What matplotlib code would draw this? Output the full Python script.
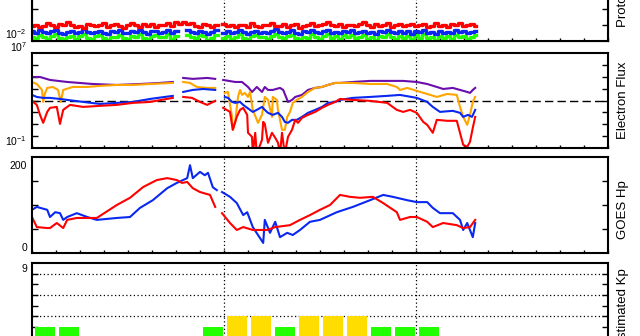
import numpy as np
import matplotlib
matplotlib.use('Agg')
import matplotlib.pyplot as plt
from matplotlib.ticker import NullLocator

plt.rcParams['font.family'] = 'Liberation Sans'
plt.rcParams['mathtext.default'] = 'regular'

nan = np.nan

# ---- proton flux, log10 values on a half-hour grid ----
p_hours = np.arange(0, 56, 0.5)
p_red = [-1.05, -0.98, -1.12, -1.08, -0.90, -1.02, -1.15, -0.95,
         -1.00, -0.82, -0.97, -1.10, -1.04, -1.18, -0.93, -1.01,
         -1.07, -0.99, -0.88, -1.13, -1.00, -0.94, -1.09, -1.16,
         -0.98, -0.86, -1.03, -1.11, -0.96, -1.05, -0.91, -1.14,
         -1.02, -0.97, -0.85, -1.06, -0.80, -0.92, -0.84, -0.95,
         -0.89, -1.04, -1.10, -0.96, -1.01, -1.12, -0.99, nan,
         -0.94, -1.08, -1.03, -1.15, -0.97, -1.00, -1.11, -0.90,
         -1.06, -1.13, -0.98, -1.02, -0.87, -1.09, -1.04, -0.95,
         -1.10, -1.00, -0.93, -1.17, -1.05, -0.99, -0.89, -1.07,
         -1.01, -0.92, -0.81, -1.03, -1.08, -0.96, -1.14, -1.00,
         -0.97, -1.06, -0.91, -0.84, -1.02, -1.10, -0.95, -1.05,
         -0.99, -0.88, -1.12, -1.03, -0.96, -1.07, -1.01, -0.93,
         -1.09, -1.00, -0.94, -1.13, -1.04, -0.90, -1.06, -0.98,
         -1.11, -0.95, -1.02, -0.87, -1.05, -1.00, -0.93, -1.04]
p_blue = [-1.40, -1.48, -1.33, -1.45, -1.52, -1.38, -1.30, -1.47,
          -1.55, -1.42, -1.36, -1.50, -1.44, -1.28, -1.41, -1.53,
          -1.46, -1.35, -1.49, -1.57, -1.39, -1.43, -1.32, -1.48,
          -1.51, -1.37, -1.44, -1.29, -1.46, -1.54, -1.40, -1.35,
          -1.47, -1.42, -1.31, -1.50, -1.38, nan, nan, -1.34,
          -1.43, -1.49, -1.36, -1.41, -1.55, -1.45, -1.33, nan,
          -1.48, -1.39, -1.52, -1.44, -1.30, -1.46, -1.58, -1.41,
          -1.35, -1.47, -1.43, -1.51, -1.37, -1.27, -1.45, -1.50,
          -1.42, -1.34, -1.49, -1.56, -1.40, -1.46, -1.32, -1.44,
          -1.52, -1.38, -1.29, -1.47, -1.41, -1.53, -1.36, -1.45,
          -1.31, -1.48, -1.43, -1.35, -1.50, -1.42, -1.57, -1.39,
          -1.46, -1.33, -1.44, -1.51, -1.37, -1.48, -1.40, -1.54,
          -1.36, -1.45, -1.30, -1.49, -1.42, -1.55, -1.38, -1.47,
          -1.41, -1.52, -1.34, -1.46, -1.39, -1.50, -1.43, -1.37]
p_green = [-1.72, -1.80, -1.63, -1.76, -1.88, -1.69, -1.58, -1.83,
           -1.90, -1.74, -1.66, -1.85, -1.71, -1.56, -1.79, -1.87,
           -1.68, -1.61, -1.82, -1.92, -1.73, -1.77, -1.60, -1.84,
           -1.86, -1.67, -1.75, -1.55, -1.81, -1.89, -1.70, -1.64,
           -1.78, -1.72, -1.59, -1.85, -1.66, nan, nan, -1.62,
           -1.74, -1.83, -1.65, -1.70, -1.91, -1.79, -1.61, nan,
           -1.80, -1.69, -1.87, -1.75, -1.57, -1.82, -1.93, -1.71,
           -1.64, -1.78, -1.73, -1.86, -1.68, -1.54, -1.77, -1.84,
           -1.70, -1.62, -1.81, -1.90, -1.72, -1.79, -1.58, -1.76,
           -1.88, -1.66, -1.56, -1.80, -1.71, -1.89, -1.65, -1.78,
           -1.60, -1.83, -1.74, -1.63, -1.86, -1.72, -1.92, -1.69,
           -1.77, -1.59, -1.75, -1.87, -1.67, -1.82, -1.70, -1.90,
           -1.64, -1.79, -1.57, -1.84, -1.73, -1.91, -1.66, -1.80,
           -1.71, -1.88, -1.61, -1.78, -1.68, -1.85, -1.74, -1.63]

# ---- electron flux (log10) ----
e_purple_t = [0, 1.0, 2.25, 4.4, 7.6, 10.6, 13.5, 16.0, 17.6, 18.0, 18.9, 20.1, 21.9, 22.9, 23.2,
              23.9, 25.4, 26.25, 27.0, 27.5, 28.1, 28.75, 29.1, 29.5, 30.1, 31.0, 31.4, 31.9, 32.0,
              32.5, 32.9, 33.75, 34.5, 35.4, 36.25, 37.0, 37.9, 38.5, 40.1, 42.25, 44.4, 46.4, 48.1,
              49.4, 50.6, 51.4, 52.6, 53.5, 54.4, 54.75, 55.1, 55.4]
e_purple = [4.98, 4.98, 4.73, 4.56, 4.39, 4.31, 4.39, 4.48, 4.56, nan, 4.90, 4.82, 4.90, 4.82, nan,
            4.73, 4.56, 4.56, 4.14, 3.72, 4.14, 3.72, 4.14, 3.89, 3.89, 4.06, 3.89, 3.05, 2.88,
            3.05, 3.30, 3.47, 3.89, 4.06, 4.14, 4.31, 4.48, 4.48, 4.56, 4.65, 4.65, 4.65, 4.56,
            4.39, 4.14, 3.97, 4.06, 3.89, 3.72, 3.64, 3.89, 4.06]

e_orange_t = [0, 0.6, 1.25, 1.4, 1.6, 1.9, 2.6, 3.25, 3.6, 3.9, 5.1, 6.9, 8.5, 10.6, 12.6, 14.75,
              17.6, 18.0, 18.9, 19.75, 20.6, 21.9, 22.9, 23.2, 24.1, 24.5, 25.0, 25.1, 25.4, 25.75,
              26.0, 26.25, 26.6, 27.0, 27.25, 27.6, 28.25, 28.75, 29.1, 29.5, 30.0, 30.1, 30.6,
              30.75, 31.25, 31.6, 31.9, 32.25, 32.6, 33.1, 33.75, 34.5, 35.4, 36.25, 37.0, 37.9,
              38.5, 40.1, 42.25, 44.4, 45.6, 46.0, 46.9, 48.1, 49.4, 50.6, 51.9, 53.1, 53.5, 53.9,
              54.4, 54.75, 55.1, 55.4]
e_orange = [4.56, 4.39, 3.89, 2.88, 3.55, 4.06, 4.14, 3.89, 2.88, 3.89, 4.14, 4.14, 4.23, 4.31, 4.31, 4.39,
            4.48, nan, 4.56, 4.48, 4.14, 4.06, 4.06, nan, 3.64, 3.72, 1.62, 0.53, 1.20, 3.30,
            3.89, 3.47, 3.64, 3.30, 3.72, 2.21, 1.12, 1.79, 3.30, 3.05, 1.62, 3.30, 3.05,
            2.21, 0.53, 0.53, 1.62, 2.04, 2.80, 3.05, 3.30, 3.72, 4.06, 4.14, 4.31, 4.48,
            4.48, 4.48, 4.39, 4.39, 4.14, 3.89, 4.06, 3.81, 3.55, 3.30, 3.55, 3.47, 2.46, 1.62,
            0.95, 1.79, 2.88, 3.30]

e_blue_t = [0, 0.6, 1.4, 2.25, 3.5, 4.4, 6.4, 8.5, 10.6, 12.6, 14.75, 17.6, 18.0, 18.9, 20.1, 21.4,
            22.9, 23.2, 24.1, 24.5, 25.0, 25.4, 26.0, 26.4, 26.9, 27.25, 27.6, 28.1, 28.75, 29.1,
            29.5, 30.1, 30.75, 31.25, 31.6, 32.0, 32.5, 33.1, 33.75, 34.5, 35.4, 36.25, 37.0,
            37.9, 38.5, 40.1, 42.25, 44.4, 46.0, 48.1, 49.4, 50.1, 51.0, 52.6, 53.5, 53.9, 54.5,
            55.0, 55.4]
e_blue = [3.47, 3.30, 3.22, 3.22, 3.13, 3.05, 2.88, 2.71, 2.80, 2.88, 3.13, 3.39, nan, 3.72, 3.89, 3.97,
          3.89, nan, 3.30, 3.22, 2.88, 2.80, 2.88, 2.63, 2.38, 2.21, 2.04, 2.21, 2.46, 2.21,
          1.96, 1.79, 1.96, 1.62, 1.20, 1.12, 1.37, 1.37, 1.62, 1.96, 2.21, 2.46, 2.80,
          2.88, 3.05, 3.22, 3.30, 3.39, 3.47, 3.22, 2.88, 2.46, 2.04, 2.13, 1.96, 1.62, 1.79,
          1.62, 2.21]

e_red_t = [0, 0.6, 1.0, 1.4, 1.9, 2.25, 3.1, 3.5, 3.9, 4.75, 6.4, 8.5, 10.6, 12.6, 14.75, 17.6, 18.0,
           18.9, 20.0, 21.0, 21.9, 22.9, 23.2, 23.9, 24.75, 25.1, 25.6, 26.0, 26.4, 26.9, 27.0,
           27.5, 27.6, 27.9, 28.1, 28.75, 28.9, 29.1, 29.5, 30.0, 30.4, 30.75, 31.0, 31.25, 31.6,
           32.0, 32.5, 32.9, 33.25, 33.75, 34.5, 35.4, 36.25, 37.0, 37.9, 38.5, 40.1, 42.25,
           44.4, 45.6, 46.4, 47.25, 48.1, 48.9, 49.4, 50.1, 50.6, 51.9, 53.1, 53.5, 53.9, 54.4,
           54.75, 55.1, 55.4]
e_red = [2.97, 2.63, 1.79, 1.12, 2.04, 2.38, 2.46, 1.03, 2.21, 2.63, 2.46, 2.55, 2.63, 2.80, 2.88, 3.22, nan,
         3.30, 3.22, 2.88, 2.63, 2.97, nan, 2.38, 2.04, 0.53, 1.62, 2.21, 2.38, 1.79, 0.28,
         -0.06, -1.5, 0.28, -1.5, -0.31, 1.20, 1.03, -0.56, 0.28, -0.14, -0.56, -1.5, 0.28, -1.5,
         -0.06, 0.53, 1.37, 1.12, 1.54, 1.79, 2.04, 2.38, 2.63, 2.88, 3.13, 3.05, 2.97,
         2.80, 2.21, 2.04, 2.21, 1.96, 1.20, 0.95, 0.28, 1.37, 1.29, 1.29, 0.28, -0.73, -0.90,
         -0.48, 0.70, 1.62]

# ---- GOES Hp (nT) ----
hp_blue_t = [0, 0.6, 1.9, 2.25, 2.9, 3.5, 3.9, 4.4, 5.6, 6.9, 8.1, 10.6, 12.25, 13.5, 15.1, 16.9,
             18.1, 19.4, 19.75, 20.1, 21.0, 21.6, 22.0, 22.6, 23.1, 23.4, 23.75, 24.75, 25.6, 26.4,
             26.9, 27.6, 28.9, 29.1, 29.75, 30.4, 31.0, 31.9, 32.6, 33.5, 34.75, 36.0, 38.1, 40.1,
             42.25, 43.9, 45.1, 46.9, 48.1, 49.4, 50.1, 51.0, 52.6, 53.5, 53.9, 54.4, 55.1, 55.4]
hp_blue = [90, 96, 90, 75, 85, 83, 69, 75, 83, 75, 69, 73, 75, 94, 110, 135,
           146, 156, 183, 156, 169, 162, 167, 137, 131, nan, 127, 117, 104, 79,
           85, 54, 21, 69, 42, 65, 33, 42, 37.5, 48, 65, 69, 85, 96,
           110, 121, 117, 110, 106, 106, 94, 83, 83, 69, 48, 62.5, 33, 62.5]
hp_red_t = [0, 0.6, 1.9, 2.25, 3.1, 3.9, 4.4, 5.6, 8.1, 10.6, 12.25, 13.9, 15.6, 16.9, 18.1, 18.75,
            19.4, 20.1, 21.0, 22.25, 22.9, 23.2, 23.75, 24.75, 25.6, 26.4, 27.6, 29.4, 30.4, 32.25,
            33.5, 34.75, 36.0, 37.25, 38.5, 39.75, 41.0, 42.6, 43.9, 45.6, 46.0, 47.25, 48.1, 49.4,
            50.1, 51.4, 53.1, 53.9, 54.75, 55.4]
hp_red = [75, 54, 52, 52, 62.5, 52, 69, 73, 73, 100, 115, 137.5, 152, 156, 152, 146,
          148, 135, 127, 121, 96, nan, 83, 62.5, 48, 54, 48, 48, 54, 58,
          69, 79, 90, 100, 121, 117, 115, 117, 104, 85, 69, 75, 75, 65,
          54, 62.5, 58, 52, 54, 69]

# ---- estimated Kp, one value per 3-hour interval ----
kp_start = np.arange(0, 54, 3)
kp = [3, 3, 2, 2, 1, 2, 2, 3, 4, 4, 3, 4, 4, 4, 3, 3, 3, 2]


def colour_kp(v):
    if v >= 5:
        return '#ff0000'
    if v >= 4:
        return '#ffdd00'
    return '#22ff00'


fig = plt.figure(figsize=(6.4, 3.36), dpi=100)
FW, FH = 640.0, 336.0


def panel(top, bot):
    return fig.add_axes([32 / FW, 1 - bot / FH, 576 / FW, (bot - top) / FH])


def style(ax):
    ax.set_xlim(0, 72)
    ax.set_xticks(np.arange(0, 73, 3))
    ax.tick_params(axis='x', direction='in', length=2.5, width=1, labelbottom=False, top=False)
    ax.tick_params(axis='y', direction='in', length=4.5, width=1, labelleft=False, right=True)
    for s in ax.spines.values():
        s.set_linewidth(1.5)
    for d in (24, 48):
        ax.axvline(d, color='k', ls=(0, (1, 2)), lw=0.9, zorder=1)


lw = 1.5

# proton panel
ax_p = panel(-55, 41)
style(ax_p)
ax_p.set_yscale('log')
ax_p.set_ylim(1e-2, 1e4)
ax_p.set_yticks([1e0, 1e2])
ax_p.yaxis.set_minor_locator(NullLocator())
ax_p.tick_params(axis='y', right=False)
ax_pr = ax_p.twinx()
ax_pr.set_yscale('log')
ax_pr.set_ylim(1e-2, 1e4)
ax_pr.set_yticks([10.0 ** k for k in range(-1, 4)])
ax_pr.yaxis.set_minor_locator(NullLocator())
ax_pr.tick_params(axis='y', direction='in', length=4.5, width=1, labelright=False)
ax_p.plot(p_hours, 10 ** np.array(p_green), color='#22ff00', lw=2.4, drawstyle='steps-mid')
ax_p.plot(p_hours, 10 ** np.array(p_blue), color='#0a28f0', lw=2.4, drawstyle='steps-mid')
ax_p.plot(p_hours, 10 ** np.array(p_red), color='#ff0000', lw=2.4, drawstyle='steps-mid')

# electron panel
ax_e = panel(53, 148)
style(ax_e)
ax_e.set_yscale('log')
ax_e.set_ylim(1e-1, 1e7)
ax_e.set_yticks([10.0 ** k for k in range(0, 7)])
ax_e.yaxis.set_minor_locator(NullLocator())
ax_e.axhline(1e3, color='k', ls=(0, (6, 3)), lw=1)
ax_e.plot(e_purple_t, 10 ** np.array(e_purple), color='#6a0dad', lw=lw)
ax_e.plot(e_orange_t, 10 ** np.array(e_orange), color='#ffa500', lw=lw)
ax_e.plot(e_blue_t, 10 ** np.array(e_blue), color='#0a28f0', lw=lw)
ax_e.plot(e_red_t, 10 ** np.array(e_red), color='#ff0000', lw=lw)

# Hp panel
ax_h = panel(157, 253)
style(ax_h)
ax_h.set_ylim(0, 200)
ax_h.set_yticks([50, 100, 150])
ax_h.plot(hp_blue_t, hp_blue, color='#0a28f0', lw=lw)
ax_h.plot(hp_red_t, hp_red, color='#ff0000', lw=lw)

# Kp panel
ax_k = panel(263, 359)
style(ax_k)
ax_k.set_ylim(0, 9)
ax_k.set_yticks(range(1, 9))
for lev in (4, 6, 8):
    ax_k.axhline(lev, color='k', ls=(0, (1, 2)), lw=0.9, zorder=1)
ax_k.bar(kp_start + 1.6, kp, width=2.5, color=[colour_kp(v) for v in kp], zorder=2)

# axis labels
fs_tick = 7.5
fig.text(27 / FW, 1 - 41 / FH, '$10^{-2}$', ha='right', va='bottom', fontsize=fs_tick)
fig.text(27 / FW, 1 - 52 / FH, '$10^{7}$', ha='right', va='baseline', fontsize=fs_tick)
fig.text(27 / FW, 1 - 148 / FH, '$10^{-1}$', ha='right', va='bottom', fontsize=fs_tick)
fig.text(27 / FW, 1 - 161 / FH, '200', ha='right', va='top', fontsize=fs_tick)
fig.text(27 / FW, 1 - 253 / FH, '0', ha='right', va='bottom', fontsize=fs_tick)
fig.text(27 / FW, 1 - 264 / FH, '9', ha='right', va='top', fontsize=fs_tick)

fs_lab = 9.5
xr = 623 / FW
fig.text(xr, 1 - (-7) / FH, 'Proton Flux', rotation=90, ha='center', va='center', fontsize=fs_lab)
fig.text(xr, 1 - 100.5 / FH, 'Electron Flux', rotation=90, ha='center', va='center', fontsize=fs_lab)
fig.text(xr, 1 - 210 / FH, 'GOES Hp', rotation=90, ha='center', va='center', fontsize=fs_lab)
fig.text(xr, 1 - 308 / FH, 'Estimated Kp', rotation=90, ha='center', va='center', fontsize=fs_lab)

fig.savefig('out.png', dpi=100)
